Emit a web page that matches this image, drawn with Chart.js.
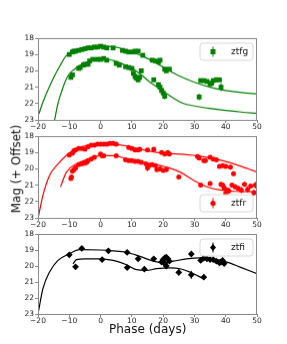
<!DOCTYPE html>
<html>
<head>
<meta charset="utf-8">
<script src="https://cdn.jsdelivr.net/npm/chart.js@4/dist/chart.umd.min.js"></script>
<style>
  body { margin: 0; background: #fff; width: 287px; height: 344px; position: relative; overflow: hidden; font-family: "DejaVu Sans", sans-serif; }
  canvas { position: absolute; left: 0; }
  .lbl { position: absolute; color: #111; font-size: 12px; white-space: nowrap; }
</style>
</head>
<body>
<canvas id="gChart"></canvas>
<canvas id="rChart"></canvas>
<canvas id="iChart"></canvas>
<div class="lbl" id="ylab">Mag (+ Offset)</div>
<div class="lbl" id="xlab">Phase (days)</div>
<script>
// ztfg
const gPhase1 = [-10, -9, -8.5, -8, -7, -6, -5, -4, -3, -2, -1, 0, 1, 2, 4, 7, 8, 9, 10.5, 11, 12, 13.5, 16.5, 17.5, 18.5, 19, 20.5, 21, 22, 32, 33, 34, 35, 35.5, 36, 37, 38, 38.5];
const gMag1 = [19.0, 18.85, 18.8, 18.8, 18.75, 18.7, 18.65, 18.6, 18.6, 18.55, 18.55, 18.5, 18.55, 18.6, 18.6, 18.75, 18.8, 18.85, 18.85, 18.8, 18.8, 19.05, 19.35, 19.4, 19.45, 19.35, 19.9, 20.0, 19.9, 20.6, 20.6, 20.65, 20.8, 20.75, 20.6, 20.55, 20.55, 21.0];
const gErr1 = [0.06, 0.06, 0.06, 0.06, 0.06, 0.06, 0.06, 0.06, 0.06, 0.06, 0.06, 0.06, 0.06, 0.06, 0.06, 0.06, 0.06, 0.06, 0.06, 0.06, 0.06, 0.08, 0.08, 0.08, 0.08, 0.08, 0.1, 0.1, 0.1, 0.1, 0.1, 0.1, 0.12, 0.1, 0.1, 0.15, 0.1, 0.25];
const gPhase2 = [-9.5, -9, -7, -6.5, -5.5, -5, -4, -3.5, -2.5, -1, 0, 1, 2, 5, 6, 8, 9, 10, 10.5, 11, 11.5, 12, 12.5, 13, 17, 18.5, 19, 19.5, 20, 20.5, 31.5];
const gMag2 = [20.4, 20.25, 19.85, 19.8, 19.65, 19.6, 19.6, 19.4, 19.3, 19.3, 19.3, 19.25, 19.35, 19.55, 19.65, 19.75, 19.8, 19.85, 20.15, 20.35, 20.45, 20.55, 20.4, 20.0, 20.55, 20.85, 21.0, 21.2, 21.35, 21.55, 21.6];
const gErr2 = [0.1, 0.1, 0.08, 0.08, 0.08, 0.08, 0.08, 0.08, 0.08, 0.08, 0.08, 0.08, 0.08, 0.08, 0.08, 0.08, 0.08, 0.1, 0.12, 0.15, 0.25, 0.15, 0.12, 0.15, 0.15, 0.15, 0.15, 0.2, 0.2, 0.2, 0.2];
const gModelPhase1 = [-19.7, -18.4, -15.2, -13, -10.9, -8, -5, -2, 0, 3, 6, 10, 14, 18, 21, 25, 30, 35, 40, 45, 50];
const gModelMag1 = [22.63, 21.9, 20.5, 19.7, 19.06, 18.8, 18.65, 18.53, 18.5, 18.52, 18.6, 18.85, 19.15, 19.55, 19.88, 20.3, 20.7, 21.0, 21.2, 21.33, 21.41];
const gModelPhase2 = [-14.7, -13.5, -12.5, -11.5, -10.4, -9, -7.7, -6, -4.5, -2, 0, 2, 4, 7, 10.4, 13, 15.8, 18.5, 21.1, 24, 26.5, 30, 35, 40, 45, 50];
const gModelMag2 = [23.0, 21.9, 21.3, 20.75, 20.3, 20.0, 19.8, 19.6, 19.47, 19.33, 19.27, 19.28, 19.37, 19.58, 19.88, 20.25, 20.7, 21.05, 21.4, 21.75, 22.0, 22.15, 22.3, 22.42, 22.52, 22.6];

// ztfr
const rPhase1 = [-10, -9, -8.5, -8, -7, -6, -5, -4, -3, -2, -1, 0, 1, 2, 3, 4, 5, 9, 10, 11, 12, 12.5, 15, 17, 19.5, 20.5, 21.5, 22, 31, 31.5, 33, 33.5, 35, 36, 37, 38, 39, 40, 41.5, 42.5];
const rMag1 = [19.15, 19.05, 18.9, 18.85, 18.75, 18.75, 18.8, 18.65, 18.55, 18.55, 18.5, 18.5, 18.5, 18.5, 18.45, 18.45, 18.5, 18.7, 18.75, 18.85, 18.85, 18.8, 18.85, 18.8, 19.0, 19.1, 19.0, 19.1, 19.25, 19.35, 19.5, 19.5, 19.3, 19.4, 19.45, 19.85, 19.8, 19.85, 19.9, 20.3];
const rErr1 = [0.06, 0.06, 0.06, 0.06, 0.06, 0.06, 0.06, 0.06, 0.06, 0.06, 0.06, 0.06, 0.06, 0.06, 0.06, 0.06, 0.06, 0.06, 0.06, 0.06, 0.06, 0.06, 0.06, 0.06, 0.08, 0.08, 0.08, 0.08, 0.1, 0.1, 0.1, 0.1, 0.1, 0.1, 0.1, 0.12, 0.12, 0.12, 0.12, 0.15];
const rPhase2 = [-9.5, -9.3, -9, -8.5, -8, -7, -6, -5, -4.5, -4, -3, -2, 0, 0.5, 1, 5, 8, 9, 10, 11, 12, 13, 14.5, 15, 15.5, 16.5, 17.5, 18, 19, 20, 21, 25, 32, 35, 38.5, 39, 39.5, 40, 40.5, 41, 42, 43, 44, 45, 46, 47, 48, 49, 49.5];
const rMag2 = [20.6, 20.5, 20.15, 20.05, 19.95, 19.75, 19.7, 19.65, 19.6, 19.5, 19.4, 19.3, 19.1, 19.2, 19.2, 19.2, 19.45, 19.5, 19.5, 19.55, 19.55, 19.6, 19.7, 19.95, 19.8, 19.75, 19.8, 20.05, 20.0, 20.1, 20.05, 20.5, 21.0, 20.9, 20.95, 21.0, 21.15, 21.5, 21.3, 21.35, 21.0, 21.1, 21.2, 21.3, 20.95, 21.25, 21.05, 21.45, 21.0];
const rErr2 = [0.1, 0.1, 0.08, 0.08, 0.08, 0.08, 0.08, 0.08, 0.08, 0.08, 0.08, 0.08, 0.08, 0.08, 0.08, 0.08, 0.08, 0.08, 0.08, 0.08, 0.08, 0.08, 0.1, 0.2, 0.1, 0.1, 0.1, 0.12, 0.12, 0.12, 0.12, 0.1, 0.12, 0.1, 0.15, 0.15, 0.2, 0.2, 0.15, 0.2, 0.15, 0.15, 0.15, 0.2, 0.15, 0.2, 0.15, 0.2, 0.2];
const rModelPhase1 = [-19.9, -18.4, -16.3, -13.6, -10.9, -7.7, -4.5, -0.2, 4, 8.3, 12.6, 16.9, 21.1, 26.5, 31.8, 37.2, 42.5, 50];
const rModelMag1 = [22.95, 21.6, 20.4, 19.7, 19.17, 18.76, 18.58, 18.5, 18.5, 18.6, 18.8, 18.96, 19.06, 19.12, 19.23, 19.43, 19.69, 20.2];
const rModelPhase2 = [-12.8, -10.9, -7.7, -4.5, -0.2, 4, 8.3, 12.6, 16.9, 21.1, 25.4, 29.7, 34, 38.2, 42.5, 50];
const rModelMag2 = [21.1, 20.2, 19.7, 19.44, 19.2, 19.2, 19.38, 19.58, 19.7, 19.9, 20.2, 20.7, 21.1, 21.3, 21.38, 21.4];

// ztfi
const iPhase1 = [-10, -6, 2.5, 8.5, 12, 17, 19.5, 20, 20.5, 21, 21.5, 22, 20.5, 29, 32, 33, 34, 35, 36, 37, 38, 38.5, 39, 39.5];
const iMag1 = [19.3, 18.9, 19.05, 19.15, 19.55, 19.55, 19.75, 19.6, 19.5, 19.45, 19.55, 19.7, 19.85, 19.25, 19.65, 19.5, 19.55, 19.6, 19.6, 19.7, 19.8, 19.75, 19.65, 19.85];
const iErr1 = [0.08, 0.08, 0.08, 0.08, 0.08, 0.08, 0.1, 0.1, 0.1, 0.1, 0.1, 0.1, 0.15, 0.12, 0.08, 0.08, 0.08, 0.08, 0.08, 0.08, 0.08, 0.08, 0.08, 0.08];
const iPhase2 = [-8, 0.5, 8.5, 14, 21, 25, 29, 33];
const iMag2 = [20.05, 19.6, 20.1, 20.2, 20.0, 20.4, 20.55, 20.7];
const iErr2 = [0.08, 0.08, 0.1, 0.15, 0.15, 0.2, 0.25, 0.15];
const iModelPhase1 = [-20, -18.4, -16.3, -13.6, -10.4, -6.6, -0.2, 4, 8.3, 12.6, 16.9, 20.1, 23.3, 27.5, 31.8, 36.1, 40.4, 44.6, 50];
const iModelMag1 = [23.0, 21.4, 20.37, 19.65, 19.28, 18.98, 19.0, 19.05, 19.14, 19.4, 19.7, 19.8, 19.7, 19.55, 19.49, 19.55, 19.76, 20.07, 20.48];
const iModelPhase2 = [-8.8, -7.7, -4.9, -2.1, -0.2, 4, 8.3, 11.5, 14.7, 17.9, 22.2, 25.4, 28.6, 32.8];
const iModelMag2 = [19.86, 19.6, 19.55, 19.55, 19.55, 19.65, 19.92, 20.23, 20.27, 20.17, 20.12, 20.17, 20.38, 20.79];

const xTicks = [-20, -10, 0, 10, 20, 30, 40, 50];
const yTicks = [18, 19, 20, 21, 22, 23];

const AREA_LEFT = 38, AREA_RIGHT = 257, PAD_TOP = 6, X_AXIS_H = 14;

function pts(xs, ys) {
    return xs.map((x, i) => ({ x: x, y: ys[i] }));
}

const errorBars = {
    id: 'errorBars',
    beforeDatasetsDraw(chart) {
        const ctx = chart.ctx;
        const ys = chart.scales.y;
        ctx.save();
        chart.data.datasets.forEach((ds, di) => {
            if (!ds.errs) return;
            const meta = chart.getDatasetMeta(di);
            ctx.strokeStyle = ds.backgroundColor;
            ctx.lineWidth = 1;
            meta.data.forEach((el, i) => {
                const d = ds.data[i];
                const top = ys.getPixelForValue(d.y - ds.errs[i]);
                const bot = ys.getPixelForValue(d.y + ds.errs[i]);
                ctx.beginPath();
                ctx.moveTo(el.x, top);
                ctx.lineTo(el.x, bot);
                ctx.stroke();
            });
        });
        ctx.restore();
    }
};

const frameAndLegend = {
    id: 'frameAndLegend',
    afterDraw(chart, args, opts) {
        const ctx = chart.ctx;
        const a = chart.chartArea;
        ctx.save();
        ctx.strokeStyle = '#888';
        ctx.lineWidth = 1;
        ctx.strokeRect(a.left + 0.5, a.top + 0.5, a.right - a.left - 1, a.bottom - a.top);

        const bx = 200, bw = 53, bh = 17;
        const by = opts.pos === 'bottom' ? a.bottom - 23 : a.top + 5;
        const r = 3;
        ctx.beginPath();
        ctx.moveTo(bx + r, by);
        ctx.arcTo(bx + bw, by, bx + bw, by + bh, r);
        ctx.arcTo(bx + bw, by + bh, bx, by + bh, r);
        ctx.arcTo(bx, by + bh, bx, by, r);
        ctx.arcTo(bx, by, bx + bw, by, r);
        ctx.closePath();
        ctx.fillStyle = 'rgba(255,255,255,0.85)';
        ctx.fill();
        ctx.strokeStyle = '#d8d8d8';
        ctx.stroke();

        const mx = 213, my = by + bh / 2;
        ctx.strokeStyle = opts.color;
        ctx.beginPath();
        ctx.moveTo(mx, my - 5);
        ctx.lineTo(mx, my + 5);
        ctx.stroke();
        ctx.fillStyle = opts.color;
        ctx.beginPath();
        if (opts.style === 'rect') {
            ctx.rect(mx - 2.5, my - 2.5, 5, 5);
        } else if (opts.style === 'rectRot') {
            ctx.moveTo(mx, my - 3.5); ctx.lineTo(mx + 3, my); ctx.lineTo(mx, my + 3.5); ctx.lineTo(mx - 3, my); ctx.closePath();
        } else {
            ctx.arc(mx, my, 2.6, 0, Math.PI * 2);
        }
        ctx.fill();

        ctx.fillStyle = '#111';
        ctx.font = '9px "DejaVu Sans"';
        ctx.textBaseline = 'middle';
        ctx.fillText(opts.label, 231, my + 0.5);
        ctx.restore();
    }
};

function makePanel(id, areaTop, areaBottom, cfg) {
    const canvas = document.getElementById(id);
    const h = (areaBottom - areaTop) + PAD_TOP + X_AXIS_H;
    canvas.width = 287;
    canvas.height = h;
    canvas.style.width = '287px';
    canvas.style.height = h + 'px';
    canvas.style.top = (areaTop - PAD_TOP) + 'px';

    const lineDs = (xs, ys) => ({
        type: 'line',
        data: pts(xs, ys),
        borderColor: cfg.color,
        borderWidth: 1.2,
        pointRadius: 0,
        cubicInterpolationMode: 'monotone',
        fill: false,
        order: 2
    });
    const markDs = (xs, ys, es) => ({
        type: 'scatter',
        data: pts(xs, ys),
        errs: es,
        backgroundColor: cfg.color,
        borderColor: cfg.color,
        borderWidth: 0,
        pointStyle: cfg.style,
        pointRadius: cfg.radius,
        order: 1
    });

    new Chart(canvas.getContext('2d'), {
        type: 'scatter',
        data: {
            datasets: [
                lineDs(cfg.m1x, cfg.m1y),
                lineDs(cfg.m2x, cfg.m2y),
                markDs(cfg.p1x, cfg.p1y, cfg.e1),
                markDs(cfg.p2x, cfg.p2y, cfg.e2)
            ]
        },
        options: {
            responsive: false,
            animation: false,
            events: [],
            layout: { padding: { top: PAD_TOP, right: 287 - AREA_RIGHT, left: 0, bottom: 0 } },
            plugins: {
                legend: { display: false },
                tooltip: { enabled: false },
                frameAndLegend: { label: cfg.label, color: cfg.color, style: cfg.style, pos: cfg.legendPos }
            },
            scales: {
                x: {
                    type: 'linear',
                    min: xTicks[0],
                    max: xTicks[xTicks.length - 1],
                    afterBuildTicks: s => { s.ticks = xTicks.map(v => ({ value: v })); },
                    afterFit: s => { s.height = X_AXIS_H; },
                    ticks: {
                        color: '#222',
                        font: { family: 'DejaVu Sans', size: 7.5 },
                        padding: 0,
                        maxRotation: 0,
                        autoSkip: false,
                        callback: v => String(v).replace('-', '\u2212')
                    },
                    grid: { drawOnChartArea: false, color: '#888', tickLength: 3 },
                    border: { color: '#888' }
                },
                y: {
                    type: 'linear',
                    reverse: true,
                    min: yTicks[0],
                    max: yTicks[yTicks.length - 1],
                    afterBuildTicks: s => { s.ticks = yTicks.map(v => ({ value: v })); },
                    afterFit: s => { s.width = AREA_LEFT; },
                    ticks: {
                        color: '#222',
                        font: { family: 'DejaVu Sans', size: 7.5 },
                        padding: 1,
                        autoSkip: false
                    },
                    grid: { drawOnChartArea: false, color: '#888', tickLength: 3 },
                    border: { color: '#888' }
                }
            }
        },
        plugins: [errorBars, frameAndLegend]
    });
}

function drawAll() {
    makePanel('gChart', 38, 119.5, {
        label: 'ztfg', color: '#008000', style: 'rect', radius: 3.4, legendPos: 'top',
        p1x: gPhase1, p1y: gMag1, e1: gErr1, p2x: gPhase2, p2y: gMag2, e2: gErr2,
        m1x: gModelPhase1, m1y: gModelMag1, m2x: gModelPhase2, m2y: gModelMag2
    });
    makePanel('rChart', 136, 217.5, {
        label: 'ztfr', color: '#ff0000', style: 'circle', radius: 2.5, legendPos: 'bottom',
        p1x: rPhase1, p1y: rMag1, e1: rErr1, p2x: rPhase2, p2y: rMag2, e2: rErr2,
        m1x: rModelPhase1, m1y: rModelMag1, m2x: rModelPhase2, m2y: rModelMag2
    });
    makePanel('iChart', 233.5, 314, {
        label: 'ztfi', color: '#000000', style: 'rectRot', radius: 3.4, legendPos: 'top',
        p1x: iPhase1, p1y: iMag1, e1: iErr1, p2x: iPhase2, p2y: iMag2, e2: iErr2,
        m1x: iModelPhase1, m1y: iModelMag1, m2x: iModelPhase2, m2y: iModelMag2
    });

    const ylab = document.getElementById('ylab');
    ylab.style.left = (16 - ylab.offsetWidth / 2) + 'px';
    ylab.style.top = (169 - ylab.offsetHeight / 2) + 'px';
    ylab.style.transform = 'rotate(-90deg)';
    const xlab = document.getElementById('xlab');
    xlab.style.left = ((AREA_LEFT + AREA_RIGHT) / 2 - xlab.offsetWidth / 2) + 'px';
    xlab.style.top = (329 - xlab.offsetHeight / 2) + 'px';
}

drawAll();
</script>
</body>
</html>
